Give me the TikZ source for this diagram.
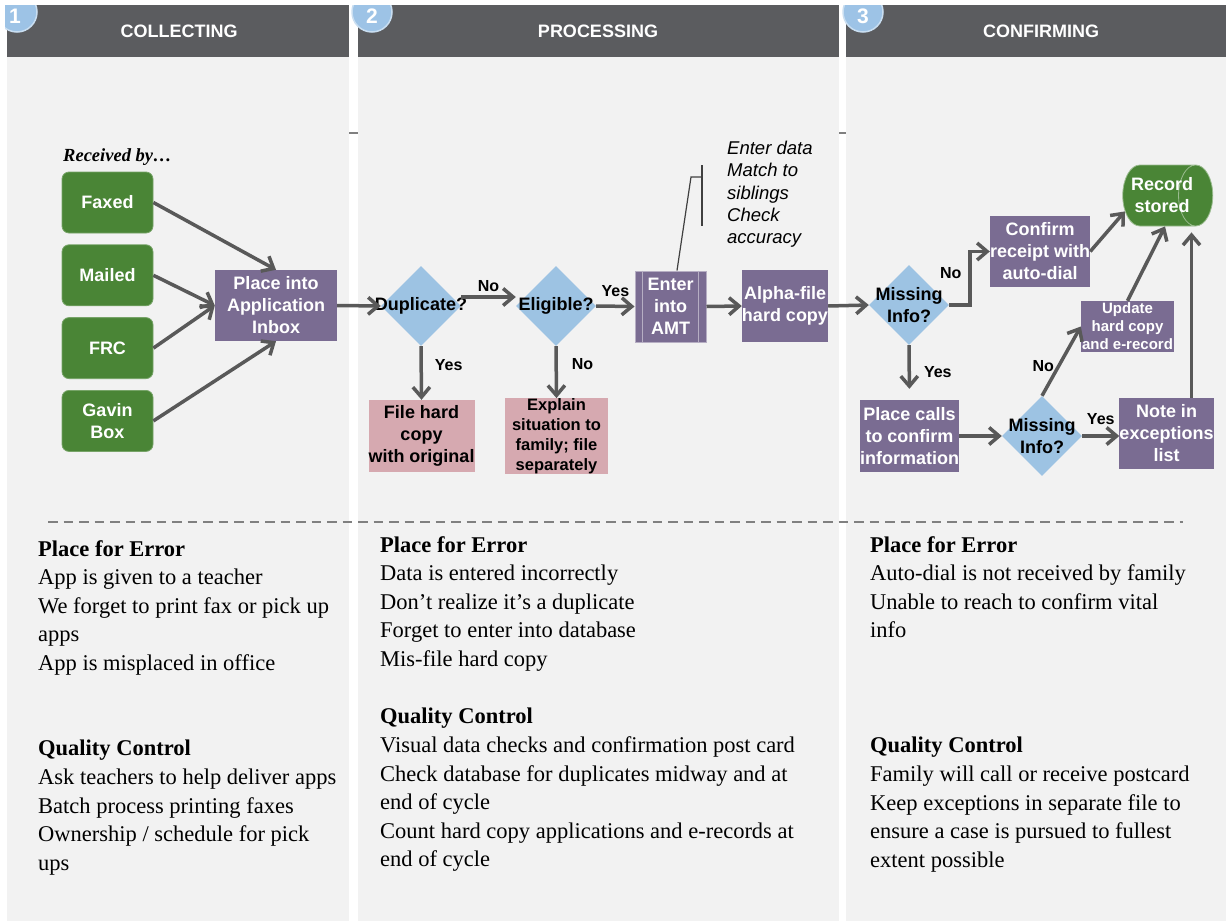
\documentclass[tikz,border=0pt]{standalone}
\usepackage{fontspec}
\setmainfont{Liberation Serif}
\setsansfont{Liberation Sans}
\usetikzlibrary{arrows.meta,shapes.geometric,positioning}

\definecolor{colgray}{HTML}{F2F2F2}
\definecolor{headgray}{HTML}{5B5C5F}
\definecolor{numblue}{HTML}{9DC3E6}
\definecolor{boxgreen}{HTML}{4A8536}
\definecolor{boxpurple}{HTML}{7A6C92}
\definecolor{boxpink}{HTML}{D6A9B0}
\definecolor{decblue}{HTML}{9DC3E3}
\definecolor{arrowgray}{HTML}{595959}

\newcommand{\fs}[2]{\fontsize{#1}{#2}\selectfont}

\begin{document}
\begin{tikzpicture}[x=1pt,y=-1pt,>={Straight Barb[length=10pt,width=17pt]},
  flow/.style={->,line width=3.5pt,draw=arrowgray},
  lbl/.style={font=\sffamily\bfseries\fs{16}{19},inner sep=1pt},
  green node/.style={rectangle,rounded corners=7pt,fill=boxgreen,draw=boxgreen!75!white,line width=0.8pt,
    minimum width=91pt,minimum height=61pt,inner sep=0pt,align=center,text=white,font=\sffamily\bfseries\fs{18}{22}},
  purple node/.style={rectangle,fill=boxpurple,inner sep=0pt,align=center,text=white,font=\sffamily\bfseries\fs{18}{22}},
  pink node/.style={rectangle,fill=boxpink,inner sep=0pt,align=center,font=\sffamily\bfseries\fs{18}{22}},
  dec node/.style={diamond,fill=decblue,minimum width=80pt,minimum height=80pt,inner sep=0pt},
  dec text/.style={align=center,inner sep=0pt,font=\sffamily\bfseries\fs{18}{21.7}},
  head text/.style={text=white,font=\sffamily\bfseries\fs{18}{22}},
  num circle/.style={circle,fill=numblue,draw=numblue!55!white,line width=1.5pt,minimum size=40pt,inner sep=0pt},
  num text/.style={text=white,inner sep=0pt,font=\sffamily\bfseries\fs{21}{24}},
  notes/.style={anchor=north west,align=left,inner sep=0pt,font=\fs{22.5}{28.6}},
  callout/.style={draw=black!75,line width=1.2pt}]

  \useasboundingbox (0,0) rectangle (1226,921);

  % columns and headers
  \fill[colgray] (7,5) rectangle (349,921);
  \fill[colgray] (358,5) rectangle (839,921);
  \fill[colgray] (846,5) rectangle (1226,921);
  \fill[headgray] (7,5) rectangle (349,57);
  \fill[headgray] (358,5) rectangle (839,57);
  \fill[headgray] (846,5) rectangle (1226,57);
  \draw[black!50,line width=2pt] (349,133) -- (358,133) (839,133) -- (846,133);

  \begin{scope}
    \clip (5,5) rectangle (1226,921);
    \node[num circle,label={[num text,yshift=-4pt,xshift=-2pt]center:1}] (c1) at (17,12) {};
    \node[num circle,label={[num text,yshift=-4pt]center:2}] (c2) at (372,12) {};
    \node[num circle,label={[num text,yshift=-4pt]center:3}] (c3) at (863,12) {};
  \end{scope}

  \node[head text] (h1) at (179,31) {COLLECTING};
  \node[head text] (h2) at (598,31) {PROCESSING};
  \node[head text] (h3) at (1041,31) {CONFIRMING};

  % collecting
  \node[anchor=west,inner sep=0pt,font=\bfseries\itshape\fs{18.5}{22}] (recv) at (63,157) {Received by\ldots};
  \node[green node] (faxed) at (107.5,202.5) {Faxed};
  \node[green node] (mailed) [below=11pt of faxed] {Mailed};
  \node[green node] (frc) [below=11pt of mailed] {FRC};
  \node[green node] (gavin) [below=11pt of frc] {Gavin\\Box};
  \node[purple node,minimum width=122pt,minimum height=71pt] (inbox) at (276,305.5) {Place into\\Application\\Inbox};

  % processing
  \node[dec node,label={[dec text]center:Duplicate?}] (dup) at (421,306) {};
  \node[dec node,label={[dec text]center:Eligible?}] (elig) at (556,306) {};
  \node[purple node,minimum width=71pt,minimum height=71pt,draw=boxpurple!55!white,line width=1pt] (amt) at (670.5,306.5) {Enter\\into\\AMT};
  \draw[draw=boxpurple!55!white,line width=1pt] ([xshift=8pt]amt.north west) -- ([xshift=8pt]amt.south west)
    ([xshift=-8pt]amt.north east) -- ([xshift=-8pt]amt.south east);
  \node[purple node,minimum width=82pt,minimum height=72pt] (alpha) at (785,306) {Alpha-file\\hard copy};
  \node[pink node,minimum width=103pt,minimum height=72pt] (filecopy) at (421.5,436) {File hard\\copy\\with original};
  \node[pink node,minimum width=103pt,minimum height=72pt,font=\sffamily\bfseries\fs{16.5}{20}] (explain) at (556.5,436) {Explain\\situation to\\family; file\\separately};
  \node[anchor=north west,align=left,inner sep=0pt,font=\sffamily\itshape\fs{18.5}{22.2}] (amtnote) at (727,141)
    {Enter data\\Match to\\siblings\\Check\\accuracy};
  \coordinate (brace) at (702,177);

  % confirming
  \node[dec node,label={[dec text]center:{Missing\\Info?}}] (miss1) at (909,305) {};
  \node[purple node,minimum width=98pt,minimum height=71pt] (confirm) at (1040,251.5) {Confirm\\receipt with\\auto-dial};
  \node[cylinder,shape border rotate=0,shape aspect=0.9,fill=boxgreen,draw=boxgreen!55!white,line width=0.8pt,
    minimum width=61pt,minimum height=90pt,inner sep=0pt,
    label={[align=center,inner sep=0pt,text=white,font=\sffamily\bfseries\fs{18}{22},xshift=3pt]center:{Record\\stored}}] (record) at (1159,195.5) {\rule{0pt}{38pt}};
  \node[purple node,minimum width=93pt,minimum height=51pt,font=\sffamily\bfseries\fs{15}{18}] (update) at (1127.5,326.5) {Update\\hard copy\\and e-record};
  \node[purple node,minimum width=99pt,minimum height=72pt] (calls) at (909.5,436) {Place calls\\to confirm\\information};
  \node[dec node,label={[dec text]center:{Missing\\Info?}}] (miss2) at (1042,436) {};
  \node[purple node,minimum width=89pt,minimum height=71pt] (excep) at (1166.5,433.5) {Note in\\exceptions\\list};

  % flow
  \draw[flow] (faxed.east) -- (inbox.north);
  \draw[flow] (mailed.east) -- (inbox.west);
  \draw[flow] (frc.east) -- (inbox.west);
  \draw[flow] (gavin.east) -- (inbox.south);
  \draw[flow] (inbox.east) -- (dup.west);
  \draw[flow] ([yshift=9pt]dup.east) -- node[lbl,above=3pt] {No} ([yshift=9pt]elig.west);
  \draw[flow] (dup.south) -- node[lbl,pos=0.35,right=11pt] {Yes} (filecopy.north);
  \draw[flow] (elig.east) -- node[lbl,above=7pt] {Yes} (amt.west);
  \draw[flow] (elig.south) -- node[lbl,pos=0.35,right=13pt] {No} (explain.north);
  \draw[flow] (amt.east) -- (alpha.west);
  \draw[flow] (alpha.east) -- (miss1.west);
  \draw[flow] (miss1.east) -- ++(21,0) |- node[lbl,pos=0.3,left=6pt] {No} (confirm.west);
  \draw[flow,shorten >=11pt] (miss1.south) -- node[lbl,right=12pt] {Yes} (calls.north);
  \draw[flow] (confirm.east) -- (record.205);
  \draw[flow] (update.north) -- ([xshift=6pt]record.south);
  \draw[flow] (miss2.north) -- node[lbl,pos=0.43,left=2pt] {No} (update.west);
  \draw[flow] (calls.east) -- (miss2.west);
  \draw[flow] (miss2.east) -- node[lbl,above=9pt] {Yes} (miss2.east -| excep.west);
  \draw[flow,shorten >=6pt] ([xshift=25pt]excep.north) -- ([xshift=25pt]excep.north |- record.south);
  \draw[callout] ([xshift=6.5pt]amt.north) -- (691,177) -- (brace);
  \draw[callout] ([yshift=12pt]brace) -- ([yshift=-49pt]brace);

  \draw[black!50,line width=1.5pt,dash pattern=on 9.5pt off 6pt] (48,522) -- (1183,522);

  % places for error and quality control
  \node[notes] (err1) at (38,540) {\textbf{Place for Error}\\App is given to a teacher\\We forget to print fax or pick up\\apps\\App is misplaced in office};
  \node[notes] (qc1) at (38,740) {\textbf{Quality Control}\\Ask teachers to help deliver apps\\Batch process printing faxes\\Ownership / schedule for pick\\ups};
  \node[notes] (err2) at (380,536) {\textbf{Place for Error}\\Data is entered incorrectly\\Don’t realize it’s a duplicate\\Forget to enter into database\\Mis-file hard copy};
  \node[notes] (qc2) at (380,708) {\textbf{Quality Control}\\Visual data checks and confirmation post card\\Check database for duplicates midway and at\\end of cycle\\Count hard copy applications and e-records at\\end of cycle};
  \node[notes] (err3) at (870,536) {\textbf{Place for Error}\\Auto-dial is not received by family\\Unable to reach to confirm vital\\info};
  \node[notes] (qc3) at (870,737) {\textbf{Quality Control}\\Family will call or receive postcard\\Keep exceptions in separate file to\\ensure a case is pursued to fullest\\extent possible};
\end{tikzpicture}
\end{document}
